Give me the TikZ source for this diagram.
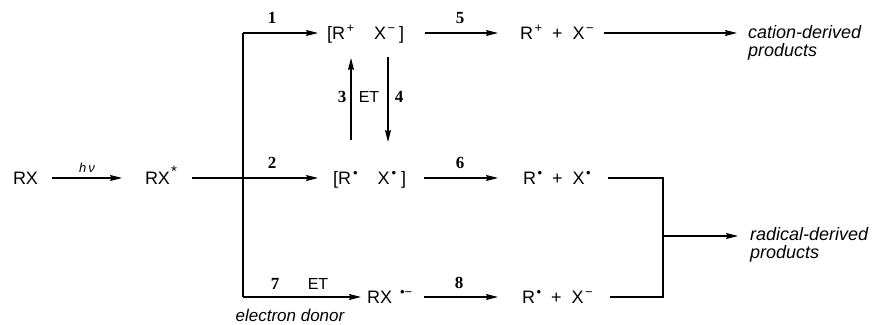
\documentclass[tikz,border=0pt]{standalone}
\usepackage{fontspec}
\setmainfont{Liberation Sans}
\newfontfamily\numfont{Liberation Serif}
\usetikzlibrary{arrows.meta}
\newcommand\chg[1]{\raisebox{7.5pt}{\fontsize{13}{13}\selectfont #1}}
\begin{document}
\begin{tikzpicture}[x=1pt,y=-1pt,
  every node/.style={inner sep=0pt, outer sep=0pt},
  sp/.style={anchor=west, font=\fontsize{18}{21}\selectfont, text height=13.5pt, text depth=0.5pt},
  num/.style={font=\numfont\bfseries\fontsize{17}{19}\selectfont},
  lbl/.style={font=\fontsize{16}{18}\selectfont},
  prod/.style={anchor=north west, align=left, font=\itshape\fontsize{18}{18}\selectfont},
  ln/.style={line width=1.1pt},
  arr/.style={ln, -{Stealth[length=12pt,width=6pt,inset=1.5pt]}}
]
\useasboundingbox (0,0) rectangle (875,324);
% species
\node[sp] (rx)  at (13,178) {RX};
\node[sp] (rxs) at (145,178) {RX\hspace{1pt}\raisebox{8pt}{\fontsize{15}{15}\selectfont *}};
\node[sp] (ip)  at (327,33) {[R\hspace{1.5pt}\chg{+}\hspace{20pt}X\hspace{1.5pt}\chg{−}\hspace{4pt}]};
\node[sp] (ir)  at (333,178) {[R\hspace{2pt}\chg{•}\hspace{20pt}X\hspace{2pt}\chg{•}\hspace{5pt}]};
\node[sp] (rp)  at (520,33) {R\hspace{1.5pt}\chg{+}\hspace{5pt} + \hspace{5pt}X\hspace{1.5pt}\chg{−}};
\node[sp] (rr)  at (523,178) {R\hspace{1.5pt}\chg{•}\hspace{5pt} + \hspace{5pt}X\hspace{1.5pt}\chg{•}};
\node[sp] (ra)  at (367,297) {RX\hspace{8pt}\chg{•−}};
\node[sp] (rr2) at (522,297) {R\hspace{1.5pt}\chg{•}\hspace{5pt} + \hspace{5pt}X\hspace{1.5pt}\chg{−}};
\node[prod] (cat) at (748,25) {cation-derived\\products};
\node[prod] (rad) at (750,227) {radical-derived\\products};
% junctions
\coordinate (j1) at (243,33);
\coordinate (j2) at (243,178);
\coordinate (j3) at (243,297);
\coordinate (k1) at (663,178);
\coordinate (k2) at (663,297);
\coordinate (k3) at (663,236);
% connectors
\draw[arr, shorten <=14pt, shorten >=23pt] (rx.east) -- (rxs.west);
\draw[ln, shorten <=15pt] (rxs.east) -- (j2);
\draw[ln] (j1) -- (j3);
\draw[arr, shorten >=9pt] (j1) -- (ip.west);
\draw[arr, shorten >=15pt] (j2) -- (ir.west);
\draw[arr, shorten >=6pt] (j3) -- (ra.west);
\draw[arr, shorten <=21pt, shorten >=22pt] (ip.east) -- (rp.west);
\draw[arr, shorten <=18pt, shorten >=25pt] (ir.east) -- (rr.west);
\draw[arr, shorten <=12pt, shorten >=24pt] (ra.east) -- (rr2.west);
\draw[arr, shorten <=10pt, shorten >=11pt] (rp.east) -- (rp.east -| cat.west);
\draw[ln, shorten <=17pt, shorten >=17pt] (rr.east) -- (k1) -- (k2) -- (rr2.east);
\draw[arr, shorten >=12pt] (k3) -- (k3 -| rad.west);
\draw[arr, shorten <=31pt, shorten >=18pt] ([xshift=18pt]ir.north west) -- ([xshift=24pt]ip.south west);
\draw[arr, shorten <=17pt, shorten >=29pt] ([xshift=61pt]ip.south west) -- ([xshift=55pt]ir.north west);
% labels
\node[font=\itshape\fontsize{13}{15}\selectfont] (hv) at (87,168) {h\,ν};
\node[num] (n1) at (272,18) {1};
\node[num] (n2) at (272,163) {2};
\node[num] (n5) at (460,18) {5};
\node[num] (n6) at (460,163) {6};
\node[num] (n7) at (275,284) {7};
\node[lbl] (et7) at (318,284) {ET};
\node[num] (n8) at (459,283) {8};
\node[num] (n3) at (342,97) {3};
\node[lbl] (et34) at (369,97) {ET};
\node[num] (n4) at (399,97) {4};
\node[font=\itshape\fontsize{17}{19}\selectfont] (ed) at (290,315) {electron donor};
\end{tikzpicture}
\end{document}
